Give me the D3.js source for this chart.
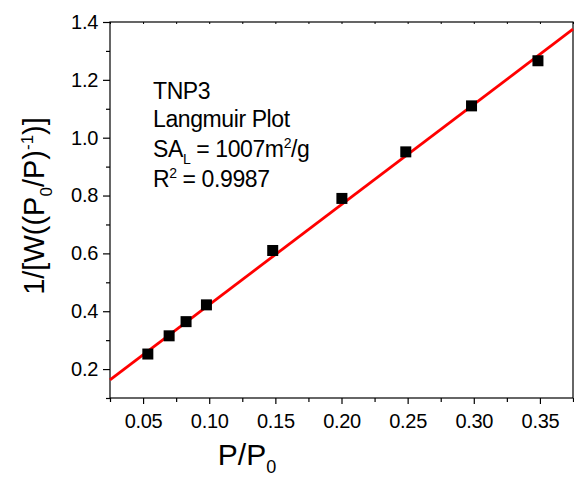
<!DOCTYPE html>
<html>
<head>
<meta charset="utf-8">
<script src="https://cdn.jsdelivr.net/npm/d3@7"></script>
<style>
  html, body { margin: 0; padding: 0; background: #fff; }
  svg text { font-family: "Liberation Sans", Arial, sans-serif; fill: #000; }
</style>
</head>
<body>
<svg id="chart" width="574" height="483"></svg>
<script>
// Langmuir plot for TNP3: measured points and linear fit
const relPressure = [0.0536, 0.0697, 0.0825, 0.0979, 0.148, 0.2003, 0.2486, 0.2983, 0.3485];
const langmuirY   = [0.252, 0.315, 0.364, 0.422, 0.610, 0.790, 0.951, 1.110, 1.266];
const fitX = [0.025, 0.375];
const fitY = [0.163, 1.375];
const xMajorTicks = [0.05, 0.10, 0.15, 0.20, 0.25, 0.30, 0.35];
const xMinorTicks = [0.025, 0.075, 0.125, 0.175, 0.225, 0.275, 0.325, 0.375];
const yMajorTicks = [0.2, 0.4, 0.6, 0.8, 1.0, 1.2, 1.4];
const yMinorTicks = [0.1, 0.3, 0.5, 0.7, 0.9, 1.1, 1.3];
const annotation = ["TNP3", "Langmuir Plot"];

const svg = d3.select("#chart");
const m = { left: 110, right: 573, top: 22, bottom: 398 };

const x = d3.scaleLinear().domain([0.025, 0.375]).range([m.left, m.right]);
const y = d3.scaleLinear().domain([0.1, 1.4]).range([m.bottom, m.top]);

// frame
svg.append("rect")
  .attr("x", m.left).attr("y", m.top)
  .attr("width", m.right - m.left).attr("height", m.bottom - m.top)
  .attr("fill", "none").attr("stroke", "#000").attr("stroke-width", 1.2);

// bottom axis
const xAxis = svg.append("g").attr("transform", `translate(0,${m.bottom})`);
xAxis.call(d3.axisBottom(x).tickValues(xMajorTicks).tickFormat(d3.format(".2f")).tickSizeOuter(0).tickSize(6).tickPadding(10));
xAxis.append("g").call(d3.axisBottom(x).tickValues(xMinorTicks).tickFormat("").tickSizeOuter(0).tickSize(4));
xAxis.selectAll(".domain").remove();
xAxis.selectAll("line").attr("stroke", "#000").attr("stroke-width", 1.2);
xAxis.selectAll("text").style("font-size", "20px").style("letter-spacing", "-0.3px");

// top axis (small inward ticks)
const xTop = svg.append("g").attr("transform", `translate(0,${m.top})`);
xTop.call(d3.axisBottom(x).tickValues(xMajorTicks.concat(xMinorTicks)).tickFormat("").tickSizeOuter(0).tickSize(2));
xTop.selectAll(".domain").remove();
xTop.selectAll("line").attr("stroke", "#000");

// left axis
const yAxis = svg.append("g").attr("transform", `translate(${m.left},0)`);
yAxis.call(d3.axisLeft(y).tickValues(yMajorTicks).tickFormat(d3.format(".1f")).tickSizeOuter(0).tickSize(7).tickPadding(5));
yAxis.append("g").call(d3.axisLeft(y).tickValues(yMinorTicks).tickFormat("").tickSizeOuter(0).tickSize(4));
yAxis.selectAll(".domain").remove();
yAxis.selectAll("line").attr("stroke", "#000").attr("stroke-width", 1.2);
yAxis.selectAll("text").style("font-size", "20px").style("letter-spacing", "-0.3px");

// fit line
svg.append("line")
  .attr("x1", x(fitX[0])).attr("y1", y(fitY[0]))
  .attr("x2", x(fitX[1])).attr("y2", y(fitY[1]))
  .attr("stroke", "#ff0000").attr("stroke-width", 2.8);

// data markers
const sq = 11;
svg.append("g").selectAll("rect")
  .data(relPressure.map((p, i) => [p, langmuirY[i]]))
  .join("rect")
  .attr("x", d => x(d[0]) - sq / 2)
  .attr("y", d => y(d[1]) - sq / 2)
  .attr("width", sq).attr("height", sq)
  .attr("fill", "#000");

// annotation
const ann = svg.append("g").style("font-size", "23px").style("letter-spacing", "-0.4px");
const ax = 153;
ann.append("text").attr("x", ax).attr("y", 99).text(annotation[0]);
ann.append("text").attr("x", ax).attr("y", 127).text(annotation[1]);
const sa = ann.append("text").attr("x", ax).attr("y", 157);
sa.append("tspan").text("SA");
sa.append("tspan").attr("dy", 7).style("font-size", "14px").text("L");
sa.append("tspan").attr("dy", -7).text(" = 1007m");
sa.append("tspan").attr("dy", -9).style("font-size", "14px").text("2");
sa.append("tspan").attr("dy", 9).text("/g");
const r2 = ann.append("text").attr("x", ax).attr("y", 187);
r2.append("tspan").text("R");
r2.append("tspan").attr("dy", -9).style("font-size", "14px").text("2");
r2.append("tspan").attr("dy", 9).text(" = 0.9987");

// axis titles
const xt = svg.append("text").attr("x", 247).attr("y", 465)
  .attr("text-anchor", "middle").style("font-size", "30px");
xt.append("tspan").text("P/P");
xt.append("tspan").attr("dy", 8).style("font-size", "18px").text("0");

const yt = svg.append("text")
  .attr("transform", "translate(44,206) rotate(-90)")
  .attr("text-anchor", "middle").style("font-size", "29px");
yt.append("tspan").text("1/[W((P");
yt.append("tspan").attr("dy", 8).style("font-size", "17px").text("0");
yt.append("tspan").attr("dy", -8).text("/P)");
yt.append("tspan").attr("dy", -11).style("font-size", "17px").text("-1");
yt.append("tspan").attr("dy", 11).text(")]");
</script>
</body>
</html>
